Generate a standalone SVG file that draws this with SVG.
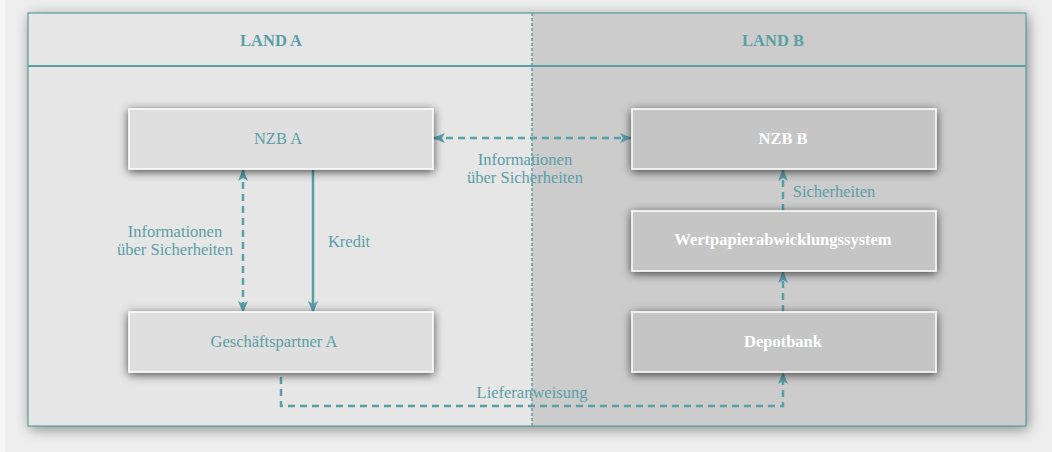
<svg xmlns="http://www.w3.org/2000/svg" width="1052" height="452" viewBox="0 0 1052 452">
<style>
text{font-family:'Liberation Serif','Times New Roman',serif;font-size:16.5px;text-anchor:middle}
.t{fill:#5a9ea7}
.h{font-weight:bold}
.w{font-weight:bold;fill:#ffffff}
.nA{fill:#dfdfdf;stroke:#ffffff;stroke-width:1.5}
.nB{fill:#c4c5c4;stroke:#ffffff;stroke-width:1.5}
.c{fill:none;stroke:#5a9ea7;stroke-width:2.5}
.d{stroke-dasharray:7 5}
</style>
<defs>
<filter id="sh" x="-20%" y="-40%" width="140%" height="180%">
<feDropShadow dx="0" dy="2" stdDeviation="5" flood-color="#000" flood-opacity="0.7"/>
</filter>
<filter id="fs" x="-5%" y="-10%" width="110%" height="120%">
<feDropShadow dx="2" dy="3" stdDeviation="7" flood-color="#000" flood-opacity="0.45"/>
</filter>
<marker id="ah" viewBox="0 0 12 10" refX="11" refY="5" markerWidth="12" markerHeight="10" markerUnits="userSpaceOnUse" orient="auto-start-reverse">
<path d="M0,0 L12,5 L0,10 L3,5 Z" fill="#5a9ea7"/>
</marker>
</defs>
<rect width="1052" height="452" fill="#eeeeee"/>
<rect width="5" height="452" fill="#f8f8f8"/>
<g id="frame">
<rect x="28" y="13" width="998" height="413" fill="#e6e6e6" filter="url(#fs)"/>
<rect x="532" y="13" width="494" height="413" fill="#cccccc"/>
<rect x="28" y="13" width="998" height="413" fill="none" stroke="#5a9ea7" stroke-width="1.2"/>
<line x1="28" y1="66" x2="1026" y2="66" stroke="#5a9ea7" stroke-width="2"/>
<line x1="532" y1="13" x2="532" y2="426" stroke="#5a9ea7" stroke-width="1.5" stroke-dasharray="3 2"/>
<text class="t h" x="271" y="46">LAND A</text>
<text class="t h" x="773" y="46">LAND B</text>
</g>
<g id="connectors">
<line class="c d" x1="434" y1="138" x2="631" y2="138" marker-start="url(#ah)" marker-end="url(#ah)"/>
<line class="c d" x1="243" y1="170" x2="243" y2="312" marker-start="url(#ah)" marker-end="url(#ah)"/>
<line class="c" x1="313" y1="170" x2="313" y2="312" marker-end="url(#ah)"/>
<line class="c d" x1="783" y1="211" x2="783" y2="170" marker-end="url(#ah)"/>
<line class="c d" x1="783" y1="312" x2="783" y2="272" marker-end="url(#ah)"/>
<polyline class="c d" points="281,377 281,406 783,406 783,373" marker-end="url(#ah)"/>
<text class="t" x="525" y="165">Informationen</text>
<text class="t" x="525" y="183">über Sicherheiten</text>
<text class="t" x="175" y="237">Informationen</text>
<text class="t" x="175" y="255">über Sicherheiten</text>
<text class="t" x="349" y="247">Kredit</text>
<text class="t" x="834" y="197">Sicherheiten</text>
<text class="t" x="532" y="398">Lieferanweisung</text>
</g>
<g id="nzbA">
<rect class="nA" x="129" y="109" width="304" height="60" filter="url(#sh)"/>
<text class="t" x="278" y="144">NZB A</text>
</g>
<g id="gpA">
<rect class="nA" x="129" y="312" width="304" height="60" filter="url(#sh)"/>
<text class="t" x="274" y="347">Geschäftspartner A</text>
</g>
<g id="nzbB">
<rect class="nB" x="632" y="109" width="304" height="60" filter="url(#sh)"/>
<text class="w" x="783" y="144">NZB B</text>
</g>
<g id="wps">
<rect class="nB" x="632" y="211" width="304" height="60" filter="url(#sh)"/>
<text class="w" x="783" y="245">Wertpapierabwicklungssystem</text>
</g>
<g id="depot">
<rect class="nB" x="632" y="312" width="304" height="60" filter="url(#sh)"/>
<text class="w" x="783" y="347">Depotbank</text>
</g>
</svg>
